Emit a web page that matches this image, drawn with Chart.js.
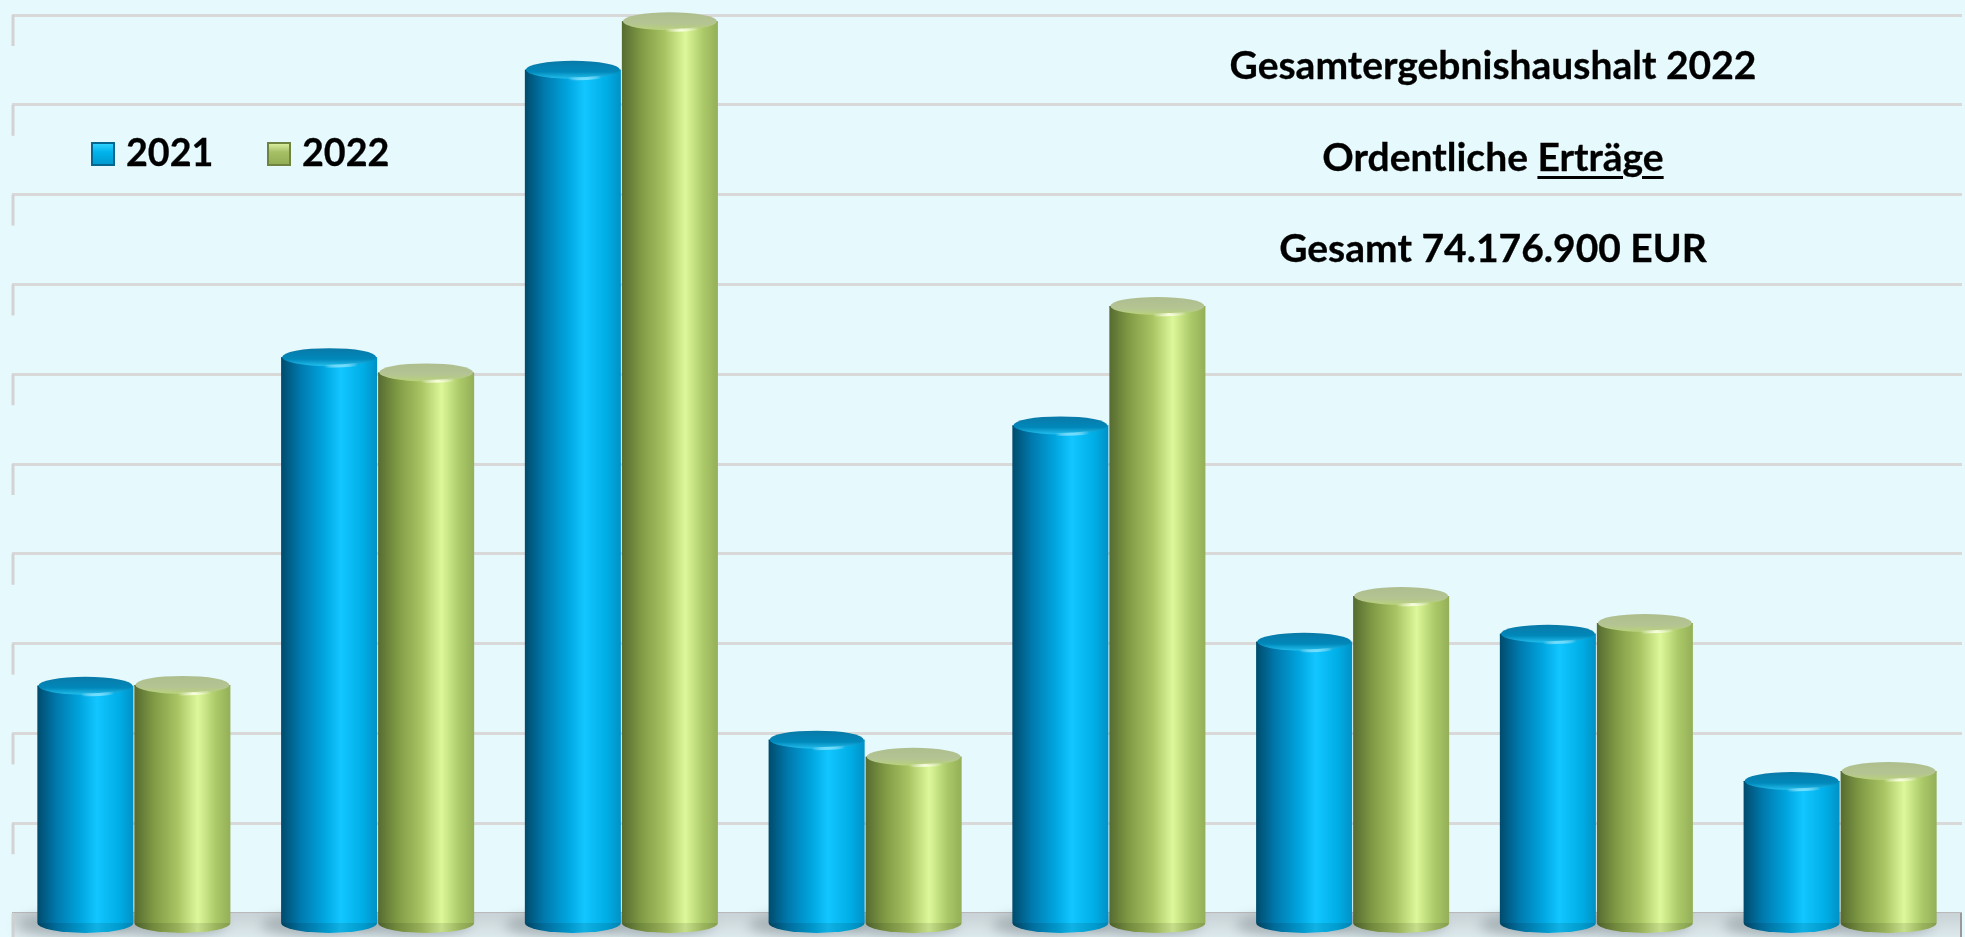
<!DOCTYPE html>
<html lang="de">
<head>
<meta charset="utf-8">
<title>Gesamtergebnishaushalt 2022 - Ordentliche Erträge</title>
<script src="https://cdn.jsdelivr.net/npm/chart.js@4.4.1/dist/chart.umd.min.js"></script>
<style>
  html, body { margin: 0; padding: 0; background: #E6F9FD; }
  #wrap { position: relative; width: 1965px; height: 937px; overflow: hidden; }
  #wrap canvas { position: absolute; left: 0; top: 0; }
  .txt { position: absolute; font-family: Lato, "Open Sans", sans-serif; font-weight: 700;
         font-size: 37.7px; line-height: 37.7px; color: #000; white-space: nowrap;
         -webkit-text-stroke: 0.3px #000; }
  .title { left: 1193px; width: 600px; text-align: center; font-size: 39px; line-height: 39px; }
  .title u { text-decoration-thickness: 3px; text-underline-offset: 5px; }
  .swatch { position: absolute; width: 20px; height: 20px; border: 2px solid; }
</style>
</head>
<body>
<div id="wrap">
  <canvas id="mycanvas"></canvas>
  <div id="legend"></div>
  <div class="txt title" style="top:45px">Gesamtergebnishaushalt 2022</div>
  <div class="txt title" style="top:137px">Ordentliche <u>Erträge</u></div>
  <div class="txt title" style="top:228px">Gesamt 74.176.900 EUR</div>
</div>
<script>
// ordentliche Ertraege in Mio. EUR
var categories = ['Pos. 1', 'Pos. 2', 'Pos. 3', 'Pos. 4', 'Pos. 5', 'Pos. 6', 'Pos. 7', 'Pos. 8'];
var seriesNames = ['2021', '2022'];
var values2021 = [5.06, 12.38, 18.78, 3.86, 10.86, 6.04, 6.22, 2.94];
var values2022 = [5.08, 12.04, 19.86, 3.48, 13.52, 7.06, 6.46, 3.16];
var yMax = 20;
var yStep = 2;

// colours of the cylinders, left -> right shading
var shades = [
  [[0, '#004B6C'], [0.2, '#0079AD'], [0.45, '#00A6E0'], [0.62, '#12C6FF'], [0.85, '#00AEE6'], [1, '#0091C6']],
  [[0, '#566B31'], [0.2, '#7F9A44'], [0.45, '#A9C463'], [0.66, '#DDF89A'], [0.85, '#ABC968'], [1, '#94AF58']]
];
var capColors = [
  { top: '#0A78A6', mid: '#0088BA', rim: '#27C8F6', glint: 'rgba(120,225,255,0.9)' },
  { top: '#ADBD8D', mid: '#B4C493', rim: '#B9D477', glint: 'rgba(250,255,225,0.95)' }
];
var legendSwatch = [
  { bg: 'linear-gradient(#2ED2FF, #00B4EC 40%, #009AD0)', border: '#05668F' },
  { bg: 'linear-gradient(#D6EC9C, #A6C066 40%, #93AE55)', border: '#6E8440' }
];
var capRy = 10;

var cylinder = {
  id: 'cylinder',
  beforeDatasetsDraw: function(chart) {
    var ctx = chart.ctx;
    var a = chart.chartArea;
    var yScale = chart.scales.y;
    ctx.save();
    // floor below the back wall
    var fg = ctx.createLinearGradient(0, a.bottom, 0, chart.height);
    fg.addColorStop(0, '#C9D2D6');
    fg.addColorStop(1, '#DCE9EC');
    ctx.fillStyle = fg;
    ctx.fillRect(a.left, a.bottom, a.right - a.left, chart.height - a.bottom);
    // side wall edges at each gridline
    ctx.strokeStyle = '#D3D3D3';
    ctx.lineWidth = 3;
    yScale.ticks.forEach(function(t) {
      var py = yScale.getPixelForValue(t.value);
      ctx.beginPath();
      ctx.moveTo(a.left + 1, py);
      ctx.lineTo(a.left + 1, Math.min(py + 31, chart.height));
      ctx.stroke();
    });
    ctx.strokeStyle = '#9A9A9A';
    ctx.lineWidth = 2;
    ctx.beginPath();
    ctx.moveTo(a.right - 1, a.bottom);
    ctx.lineTo(a.right - 1, chart.height);
    ctx.stroke();
    // soft shadows on the floor
    chart.data.datasets.forEach(function(ds, di) {
      chart.getDatasetMeta(di).data.forEach(function(bar) {
        ctx.save();
        ctx.filter = 'blur(6px)';
        ctx.fillStyle = 'rgba(90,100,105,0.35)';
        ctx.beginPath();
        ctx.ellipse(bar.x - 12, bar.base + 2, bar.width / 2 + 8, capRy + 2, 0, 0, Math.PI * 2);
        ctx.fill();
        ctx.restore();
      });
    });
    ctx.restore();

    // body gradient per bar
    chart.data.datasets.forEach(function(ds, di) {
      chart.getDatasetMeta(di).data.forEach(function(bar) {
        var g = ctx.createLinearGradient(bar.x - bar.width / 2, 0, bar.x + bar.width / 2, 0);
        shades[di].forEach(function(s) { g.addColorStop(s[0], s[1]); });
        bar.options = Object.assign({}, bar.options, { backgroundColor: g });
      });
    });
  },
  afterDatasetsDraw: function(chart) {
    var ctx = chart.ctx;
    ctx.save();
    chart.data.datasets.forEach(function(ds, di) {
      var cc = capColors[di];
      chart.getDatasetMeta(di).data.forEach(function(bar) {
        var rx = bar.width / 2;
        var body = bar.options.backgroundColor;
        // rounded bottom
        ctx.beginPath();
        ctx.ellipse(bar.x, bar.base, rx, capRy, 0, 0, Math.PI);
        ctx.fillStyle = body;
        ctx.fill();
        ctx.beginPath();
        ctx.ellipse(bar.x, bar.base, rx, capRy, 0, 0, Math.PI);
        ctx.fillStyle = 'rgba(0,0,0,0.10)';
        ctx.fill();
        // body shading under the cap
        ctx.beginPath();
        ctx.ellipse(bar.x, bar.y, rx, capRy, 0, 0, Math.PI);
        ctx.lineTo(bar.x - rx, bar.y);
        ctx.fillStyle = body;
        ctx.fill();
        // top cap
        var cg = ctx.createLinearGradient(0, bar.y - capRy, 0, bar.y + capRy);
        cg.addColorStop(0, cc.top);
        cg.addColorStop(0.6, cc.mid);
        cg.addColorStop(1, cc.rim);
        ctx.beginPath();
        ctx.ellipse(bar.x, bar.y, rx - 1, capRy - 1, 0, 0, Math.PI * 2);
        ctx.fillStyle = cg;
        ctx.fill();
        // glint on the front rim
        var hg = ctx.createLinearGradient(bar.x - rx, 0, bar.x + rx, 0);
        hg.addColorStop(0, 'rgba(255,255,255,0)');
        hg.addColorStop(0.45, 'rgba(255,255,255,0)');
        hg.addColorStop(0.62, cc.glint);
        hg.addColorStop(0.8, 'rgba(255,255,255,0)');
        hg.addColorStop(1, 'rgba(255,255,255,0)');
        ctx.beginPath();
        ctx.ellipse(bar.x, bar.y + 1, rx - 3, capRy - 2, 0, 0.15 * Math.PI, 0.85 * Math.PI);
        ctx.strokeStyle = hg;
        ctx.lineWidth = 3;
        ctx.stroke();
      });
    });
    ctx.restore();
  }
};

var chartdata = {
  labels: categories,
  datasets: [
    { label: seriesNames[0], data: values2021, backgroundColor: '#00A8E0' },
    { label: seriesNames[1], data: values2022, backgroundColor: '#A9C463' }
  ]
};

var ctx = document.getElementById('mycanvas');
var chart = new Chart(ctx, {
  type: 'bar',
  data: chartdata,
  plugins: [cylinder],
  options: {
    responsive: true,
    maintainAspectRatio: false,
    animation: false,
    layout: { padding: { left: 12, right: 3, top: 15, bottom: 24 } },
    datasets: {
      bar: {
        base: -0.22,
        clip: false,
        borderWidth: 0,
        categoryPercentage: 0.796,
        barPercentage: 0.99
      }
    },
    scales: {
      x: { display: false },
      y: {
        min: 0,
        max: yMax,
        ticks: { display: false, stepSize: yStep },
        border: { display: false },
        grid: {
          drawTicks: false,
          lineWidth: 3,
          color: function(c) { return c.tick && c.tick.value === 0 ? '#B9B9B9' : '#D9D9D9'; }
        }
      }
    },
    plugins: {
      legend: { display: false },
      tooltip: { enabled: false },
      title: { display: false }
    }
  }
});

// legend built from the datasets
var legendPos = [91, 267];
var lg = document.getElementById('legend');
chartdata.datasets.forEach(function(ds, i) {
  var sw = document.createElement('div');
  sw.className = 'swatch';
  sw.style.left = legendPos[i] + 'px';
  sw.style.top = '142px';
  sw.style.background = legendSwatch[i].bg;
  sw.style.borderColor = legendSwatch[i].border;
  lg.appendChild(sw);
  var t = document.createElement('div');
  t.className = 'txt';
  t.style.left = (legendPos[i] + 35) + 'px';
  t.style.top = '133px';
  t.textContent = ds.label;
  lg.appendChild(t);
});
</script>
</body>
</html>
